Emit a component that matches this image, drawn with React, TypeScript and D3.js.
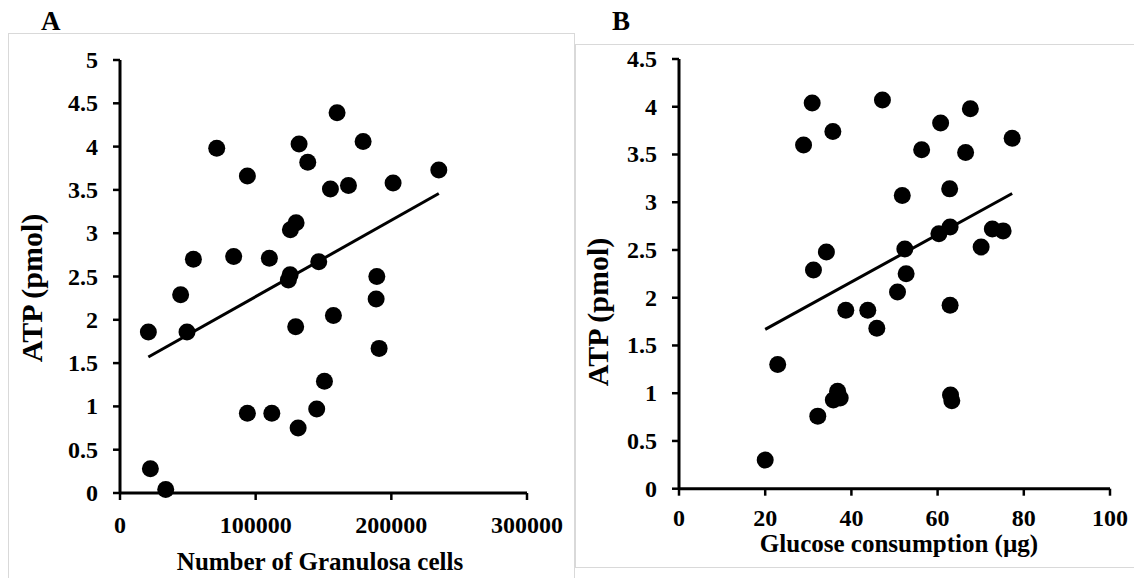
import React from "react";
import * as d3 from "d3";

// Panel A: number of granulosa cells vs ATP
const granulosaCells = [
  71300, 93900, 132000, 160000, 179200, 138400, 155100, 168400, 201300, 235000,
  129800, 125600, 54100, 83800, 110100, 146500, 125400, 124100, 189300, 188800,
  44700, 20900, 49400, 129500, 157300, 191000, 150700, 93900, 111900, 145000,
  131300, 22400, 33700,
];
const atpA = [
  3.98, 3.66, 4.03, 4.39, 4.06, 3.82, 3.51, 3.55, 3.58, 3.73,
  3.12, 3.04, 2.7, 2.73, 2.71, 2.67, 2.52, 2.46, 2.5, 2.24,
  2.29, 1.86, 1.86, 1.92, 2.05, 1.67, 1.29, 0.92, 0.92, 0.97,
  0.75, 0.28, 0.04,
];

// Panel B: glucose consumption vs ATP
const glucose = [
  30.9, 47.2, 67.6, 60.7, 35.7, 28.9, 56.3, 66.5, 77.3, 51.8,
  62.8, 72.7, 75.2, 62.9, 60.3, 70.1, 52.4, 34.2, 31.2, 52.7,
  50.7, 38.7, 43.8, 45.9, 62.9, 22.9, 36.8, 35.8, 37.4, 63.0,
  63.3, 32.2, 20.0,
];
const atpB = [
  4.04, 4.07, 3.98, 3.83, 3.74, 3.6, 3.55, 3.52, 3.67, 3.07,
  3.14, 2.72, 2.7, 2.74, 2.67, 2.53, 2.51, 2.48, 2.29, 2.25,
  2.06, 1.87, 1.87, 1.68, 1.92, 1.3, 1.02, 0.93, 0.95, 0.98,
  0.92, 0.76, 0.3,
];

const xTicksA = [0, 100000, 200000, 300000];
const yTicksA = [0, 0.5, 1, 1.5, 2, 2.5, 3, 3.5, 4, 4.5, 5];
const xTicksB = [0, 20, 40, 60, 80, 100];
const yTicksB = [0, 0.5, 1, 1.5, 2, 2.5, 3, 3.5, 4, 4.5];

const FONT = "'Liberation Serif', 'Times New Roman', serif";

// Ordinary least-squares fit used for the trend lines
function fitLine(xs: number[], ys: number[]) {
  const mx = d3.mean(xs) as number;
  const my = d3.mean(ys) as number;
  let sxy = 0;
  let sxx = 0;
  xs.forEach((x, i) => {
    sxy += (x - mx) * (ys[i] - my);
    sxx += (x - mx) * (x - mx);
  });
  const slope = sxy / sxx;
  return { slope, intercept: my - slope * mx };
}

type PanelProps = {
  xs: number[];
  ys: number[];
  xTicks: number[];
  yTicks: number[];
  xRange: [number, number];
  yRange: [number, number];
  xLabelY: number;
  yLabelRight: number;
  xTitle: string;
  xTitlePos: [number, number];
  yTitlePos: [number, number];
};

function Panel(p: PanelProps) {
  const x = d3
    .scaleLinear()
    .domain([p.xTicks[0], p.xTicks[p.xTicks.length - 1]])
    .range(p.xRange);
  const y = d3
    .scaleLinear()
    .domain([p.yTicks[0], p.yTicks[p.yTicks.length - 1]])
    .range(p.yRange);
  const { slope, intercept } = fitLine(p.xs, p.ys);
  const [xmin, xmax] = d3.extent(p.xs) as [number, number];
  const tick = 7;
  return (
    <g>
      {/* axes */}
      <line x1={x.range()[0]} x2={x.range()[1]} y1={y(0)} y2={y(0)} stroke="#000" strokeWidth={3} />
      <line x1={x(0)} x2={x(0)} y1={y.range()[0]} y2={y.range()[1]} stroke="#000" strokeWidth={3} />
      {p.yTicks.map((t) => (
        <g key={"y" + t}>
          <line x1={x(0) - tick} x2={x(0)} y1={y(t)} y2={y(t)} stroke="#000" strokeWidth={2.5} />
          <text
            x={p.yLabelRight}
            y={y(t)}
            textAnchor="end"
            dominantBaseline="central"
            fontFamily={FONT}
            fontWeight="bold"
            fontSize={24}
          >
            {String(t)}
          </text>
        </g>
      ))}
      {p.xTicks.map((t) => (
        <g key={"x" + t}>
          <line x1={x(t)} x2={x(t)} y1={y(0)} y2={y(0) + tick} stroke="#000" strokeWidth={2.5} />
          <text
            x={x(t)}
            y={p.xLabelY}
            textAnchor="middle"
            fontFamily={FONT}
            fontWeight="bold"
            fontSize={24}
          >
            {String(t)}
          </text>
        </g>
      ))}
      {/* trend line */}
      <line
        x1={x(xmin)}
        y1={y(intercept + slope * xmin)}
        x2={x(xmax)}
        y2={y(intercept + slope * xmax)}
        stroke="#000"
        strokeWidth={3}
      />
      {p.xs.map((v, i) => (
        <circle key={i} cx={x(v)} cy={y(p.ys[i])} r={8.5} fill="#000" />
      ))}
      <text
        x={p.xTitlePos[0]}
        y={p.xTitlePos[1]}
        textAnchor="middle"
        fontFamily={FONT}
        fontWeight="bold"
        fontSize={25}
      >
        {p.xTitle}
      </text>
      <text
        transform={`translate(${p.yTitlePos[0]},${p.yTitlePos[1]}) rotate(-90)`}
        textAnchor="middle"
        fontFamily={FONT}
        fontWeight="bold"
        fontSize={30}
      >
        ATP (pmol)
      </text>
    </g>
  );
}

export default function App() {
  return (
    <svg
      width={1134}
      height={578}
      style={{ position: "fixed", left: 0, top: 0, background: "#fff" }}
    >
      <rect x={0} y={0} width={1134} height={578} fill="#fff" />
      {/* panel frames */}
      <rect x={8.5} y={33.5} width={566} height={600} fill="#fff" stroke="#d9d9d9" strokeWidth={1} />
      <rect x={575.5} y={44.5} width={600} height={523} fill="#fff" stroke="#d9d9d9" strokeWidth={1} />
      <text x={41} y={30} fontFamily={FONT} fontWeight="bold" fontSize={27}>A</text>
      <text x={612} y={30} fontFamily={FONT} fontWeight="bold" fontSize={27}>B</text>
      <Panel
        xs={granulosaCells}
        ys={atpA}
        xTicks={xTicksA}
        yTicks={yTicksA}
        xRange={[120, 527]}
        yRange={[493, 60]}
        xLabelY={533}
        yLabelRight={98}
        xTitle="Number of Granulosa cells"
        xTitlePos={[320, 570]}
        yTitlePos={[42, 288]}
      />
      <Panel
        xs={glucose}
        ys={atpB}
        xTicks={xTicksB}
        yTicks={yTicksB}
        xRange={[679, 1110]}
        yRange={[488.7, 59]}
        xLabelY={526}
        yLabelRight={657}
        xTitle="Glucose consumption (µg)"
        xTitlePos={[899, 552]}
        yTitlePos={[608, 312]}
      />
    </svg>
  );
}
